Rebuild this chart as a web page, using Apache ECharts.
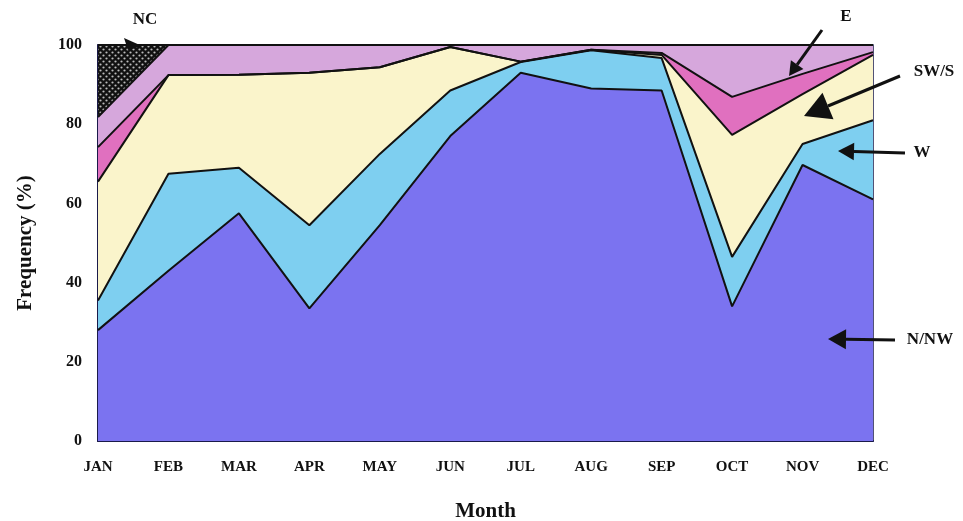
<!DOCTYPE html>
<html>
<head>
<meta charset="utf-8">
<script src="https://cdn.jsdelivr.net/npm/echarts@6/dist/echarts.min.js"></script>
<style>html,body{margin:0;padding:0;background:#fff}#c{width:963px;height:521px}</style>
</head>
<body>
<div id="c"></div>
<script>
// Data (percent of each class per month, stacked to 100)
const months = ['JAN','FEB','MAR','APR','MAY','JUN','JUL','AUG','SEP','OCT','NOV','DEC'];
const nnw  = [28, 43, 57.5, 33.5, 54.5, 77, 93, 89, 88.5, 34, 69.7, 61];
const w    = [7.5, 24.5, 11.5, 21, 18, 11.5, 2.7, 9.7, 8.2, 12.5, 5.3, 20];
const sws  = [30, 24.9, 23.5, 38.5, 21.9, 11, 0.1, 0.1, 0.8, 30.8, 12.6, 16.5];
const se   = [8.7, 0, 0, 0, 0, 0, 0, 0, 0.5, 9.6, 5.1, 0.7];
const e    = [7.6, 7.6, 7.5, 7, 5.6, 0.5, 4.2, 1.2, 2, 13.1, 7.3, 1.8];
const nc   = [18.2, 0, 0, 0, 0, 0, 0, 0, 0, 0, 0, 0];
const yTicks = [0, 20, 40, 60, 80, 100];

const FONT = '"Liberation Serif", "DejaVu Serif", serif';

// dotted pattern for NC
const pc = document.createElement('canvas');
pc.width = 6; pc.height = 6;
const g = pc.getContext('2d');
g.fillStyle = '#111'; g.fillRect(0,0,6,6);
g.fillStyle = '#bbb';
g.beginPath(); g.arc(1.5,1.5,1.1,0,Math.PI*2); g.fill();
g.beginPath(); g.arc(4.5,4.5,1.1,0,Math.PI*2); g.fill();

function layer(name, data, fill) {
  return {
    name, type: 'line', stack: 'total', data,
    symbol: 'none', smooth: false,
    lineStyle: { color: '#111', width: 2 },
    areaStyle: { color: fill, opacity: 1 },
    emphasis: { disabled: true }
  };
}

const chart = echarts.init(document.getElementById('c'));

function arrow(x1, y1, x2, y2, head) {
  const ang = Math.atan2(y2 - y1, x2 - x1);
  const L = head || 14, Wd = (head || 14) * 0.55;
  const bx = x2 - L * Math.cos(ang), by = y2 - L * Math.sin(ang);
  const px = -Math.sin(ang) * Wd, py = Math.cos(ang) * Wd;
  return [
    { type: 'line', z: 100, shape: { x1, y1, x2: bx, y2: by }, style: { stroke: '#111', lineWidth: 3 } },
    { type: 'polygon', z: 100, shape: { points: [[x2, y2], [bx + px, by + py], [bx - px, by - py]] }, style: { fill: '#111' } }
  ];
}
function label(text, x, y) {
  return { type: 'text', z: 100, x, y, style: { text, font: 'bold 17px ' + FONT, fill: '#111', align: 'center', verticalAlign: 'middle' } };
}

chart.setOption({
  animation: false,
  grid: { left: 98, right: 90, top: 45, bottom: 80, outerBoundsMode: 'none', containLabel: false,
    show: true, borderColor: '#1a1a4a', borderWidth: 1.5, backgroundColor: 'transparent' },
  xAxis: {
    type: 'category', data: months, boundaryGap: false,
    axisTick: { show: false },
    axisLine: { show: true, lineStyle: { color: '#1a1a4a', width: 2 } },
    axisLabel: { margin: 19, fontFamily: FONT, fontWeight: 'bold', fontSize: 15, color: '#111', interval: 0 },
    name: 'Month', nameLocation: 'middle', nameGap: 60,
    nameTextStyle: { fontFamily: FONT, fontWeight: 'bold', fontSize: 21, color: '#111' }
  },
  yAxis: {
    type: 'value', min: 0, max: 100, interval: 20,
    splitLine: { show: false },
    axisTick: { show: false },
    axisLine: { show: true, lineStyle: { color: '#1a1a4a', width: 2 } },
    axisLabel: { margin: 16, fontFamily: FONT, fontWeight: 'bold', fontSize: 16, color: '#111',
      formatter: v => yTicks.includes(v) ? String(v) : '' },
    name: 'Frequency (%)', nameLocation: 'middle', nameGap: 62, nameRotate: 90,
    nameTextStyle: { fontFamily: FONT, fontWeight: 'bold', fontSize: 21, color: '#111' }
  },
  series: [
    layer('N/NW', nnw, '#7b73f0'),
    layer('W', w, '#7ecff0'),
    layer('SW/S', sws, '#faf4cb'),
    layer('SE', se, '#e070bf'),
    layer('E', e, '#d6a7dc'),
    layer('NC', nc, { image: pc, repeat: 'repeat' })
  ],
  graphic: [
    label('NC', 145, 20),
    { type: 'polygon', z: 100, shape: { points: [[142, 46], [124, 38], [128, 50]] }, style: { fill: '#111' } },
    label('E', 846, 17),
    ...arrow(822, 30, 789, 76, 14),
    label('SW/S', 934, 72),
    ...arrow(900, 76, 804, 116, 26),
    label('W', 922, 153),
    ...arrow(905, 153, 838, 151, 16),
    label('N/NW', 930, 340),
    ...arrow(895, 340, 828, 339, 18)
  ]
});
</script>
</body>
</html>
